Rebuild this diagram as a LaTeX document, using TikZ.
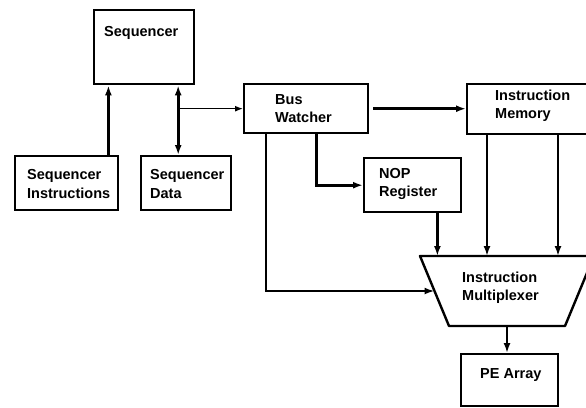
\documentclass[tikz,border=0pt]{standalone}
\usepackage{fontspec}
\setmainfont{Liberation Sans}
\usetikzlibrary{arrows.meta,calc}
\begin{document}
\begin{tikzpicture}[x=1pt,y=-1pt,
  box/.style={draw, line width=2.4pt, inner sep=0pt, anchor=north west},
  lbl/.style={anchor=west, inner sep=0pt, align=left,
    font=\fontsize{14.5}{18.5}\selectfont\bfseries},
  tip/.tip={Latex[length=10pt,width=7pt]},
  arr/.style={line width=2.6pt, -tip},
  dblarr/.style={line width=2.6pt, tip-tip},
  thinarr/.style={line width=1.3pt, -{Latex[length=8pt,width=6pt]}}]
\useasboundingbox (0,0) rectangle (586,407);
\clip (0,0) rectangle (586,407);
\fill[white] (0,0) rectangle (586,407);

% blocks
\node[box, minimum width=100, minimum height=74] (seq) at (93,9) {};
\node[box, minimum width=103, minimum height=54] (sqi) at (14,155) {};
\node[box, minimum width=90,  minimum height=54] (sqd) at (140,155) {};
\node[box, minimum width=124, minimum height=49] (bw)  at (243,83) {};
\node[box, minimum width=140, minimum height=50] (im)  at (466,83) {};
\node[box, minimum width=97,  minimum height=54] (nop) at (363,157) {};
\node[box, minimum width=97,  minimum height=52] (pe)  at (460,353) {};

% multiplexer: trapezium, wide side on top
\node[minimum width=174, minimum height=70, inner sep=0pt, outer sep=0pt] (mux) at (507,291) {};
\draw[line width=2.4pt, line join=round]
  (mux.north west) -- (mux.north east) -- ([xshift=-29pt]mux.south east)
  -- ([xshift=29pt]mux.south west) -- cycle;
\coordinate (muxin) at ($(mux.north west)!0.5!([xshift=29pt]mux.south west)$);

% labels
\node[lbl] (seqT) at (104,33)    {Sequencer};
\node[lbl] (sqiT) at (27,184)    {Sequencer\\Instructions};
\node[lbl] (sqdT) at (150,184)   {Sequencer\\Data};
\node[lbl] (bwT)  at (275,108.5) {Bus\\Watcher};
\node[lbl] (imT)  at (495,105.5) {Instruction\\Memory};
\node[lbl] (nopT) at (379,184)   {NOP\\Register};
\node[lbl] (muxT) at (462,287.5) {Instruction\\Multiplexer};
\node[lbl] (peT)  at (480,375)   {PE Array};

% connections
\draw[arr] ([xshift=-11pt]sqi.north east) -- ([xshift=-11pt]sqi.north east |- seq.south);
\draw[dblarr] ([xshift=-8pt]sqd.north) -- ([xshift=-8pt]sqd.north |- seq.south);
\draw[thinarr] ([xshift=-8pt]sqd.north |- bw.west) -- (bw.west);
\draw[arr] ([xshift=4pt]bw.east) -- (bw.east -| im.west);
\draw[arr] ([xshift=10pt]bw.south) |- (nop.west);
\draw[arr] ([xshift=23pt]bw.south west) |- (muxin);
\draw[arr] ([xshift=-25pt]nop.south east) -- ([xshift=-25pt]nop.south east |- mux.north);
\draw[arr] ([xshift=21pt]im.south west) -- ([xshift=21pt]im.south west |- mux.north);
\draw[arr] ([xshift=92pt]im.south west) -- ([xshift=92pt]im.south west |- mux.north);
\draw[arr] (mux.south) -- (mux.south |- pe.north);
\end{tikzpicture}
\end{document}
